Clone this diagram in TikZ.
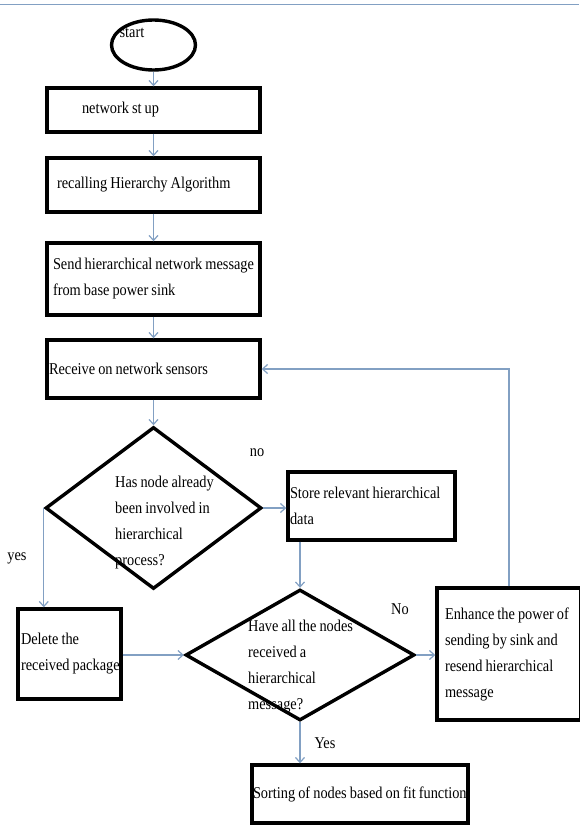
\documentclass[tikz,border=0pt]{standalone}
\usepackage{fontspec}
\setmainfont{Liberation Serif}[FakeStretch=0.87, WordSpace=0.85]
\usetikzlibrary{shapes.geometric,arrows.meta}
\definecolor{flowblue}{RGB}{130,160,195}

\tikzset{
  procbox/.style={draw, line width=3.4pt, align=flush left, inner ysep=0pt, font=\fontsize{16.5}{26}\selectfont},
  decision/.style={draw, diamond, line width=3.4pt, inner sep=0pt},
  flow/.style={->, flowblue, line width=1.2pt},
  txt/.style={inner sep=0pt, align=left, font=\fontsize{16.5}{26}\selectfont}
}

\begin{document}
\begin{tikzpicture}[x=1pt, y=-1pt, >={Straight Barb[length=5pt,width=9pt]}]
  \useasboundingbox (0,0) rectangle (579,825);
  \draw[flowblue, line width=1pt] (0,4) -- (579,4);

  \node[draw, ellipse, line width=3.4pt, minimum width=84pt, minimum height=50pt, inner sep=0pt] (start) at (153.5,45) {};
  \node[txt] (starttxt) at (132,33) {start};

  \node[procbox, minimum height=44pt, inner xsep=35pt, text width=143pt] (net) at (153.5,110) {network st up};
  \node[procbox, minimum height=54pt, inner xsep=10pt, text width=193pt] (recall) at (153.5,185) {recalling Hierarchy Algorithm};
  \node[procbox, minimum height=72pt, inner xsep=6pt, text width=201pt] (send) at (153.5,279) {Send hierarchical network message\\from base power sink};
  \node[procbox, minimum height=58pt, inner xsep=2pt, text width=209pt] (recv) at (153.5,369) {Receive on network sensors};

  % first question
  \node[decision, minimum width=216pt, minimum height=162pt] (hasnode) at (153.5,508) {};
  \node[txt, anchor=west] (hasnodetxt) at (115,523) {Has node already\\been involved in\\hierarchical\\process?};

  \node[procbox, minimum height=68pt, inner xsep=2pt, text width=163pt] (store) at (371.5,506) {Store relevant hierarchical\\data};
  \node[procbox, minimum height=90pt, inner xsep=3pt, text width=97pt] (delete) at (69.5,654) {Delete the\\\mbox{received package}};

  % second question
  \node[decision, minimum width=229pt, minimum height=131pt] (allrecv) at (300,655) {};
  \node[txt, anchor=west] (allrecvtxt) at (248,667) {Have all the nodes\\received a\\hierarchical\\message?};

  \node[procbox, minimum height=132pt, inner xsep=8pt, text width=128pt] (enhance) at (509,654) {Enhance the power of\\sending by sink and\\resend hierarchical\\message};
  \node[procbox, minimum height=58pt, inner xsep=1pt, text width=214pt] (sort) at (360,794) {Sorting of nodes based on fit function};

  \node[txt] (nolbl) at (257,453) {no};
  \node[txt] (yeslbl) at (17,558) {yes};
  \node[txt] (no2lbl) at (400,609) {No};
  \node[txt] (yes2lbl) at (325,743) {Yes};

  \draw[flow] (start) -- (net);
  \draw[flow] (net) -- (recall);
  \draw[flow] (recall) -- (send);
  \draw[flow] (send) -- (recv);
  \draw[flow] (recv) -- (hasnode);
  \draw[flow] (hasnode.east) -- (hasnode.east -| store.west);
  \draw[flow] (hasnode.west) -- (hasnode.west |- delete.north);
  \draw[flow] (store.south -| allrecv.north) -- (allrecv.north);
  \draw[flow] (delete.east |- allrecv.west) -- (allrecv.west);
  \draw[flow] (allrecv.east) -- (allrecv.east -| enhance.west);
  \draw[flow] (allrecv.south) -- (allrecv.south |- sort.north);
  \draw[flow] (enhance.north) |- (recv.east);

\end{tikzpicture}
\end{document}
